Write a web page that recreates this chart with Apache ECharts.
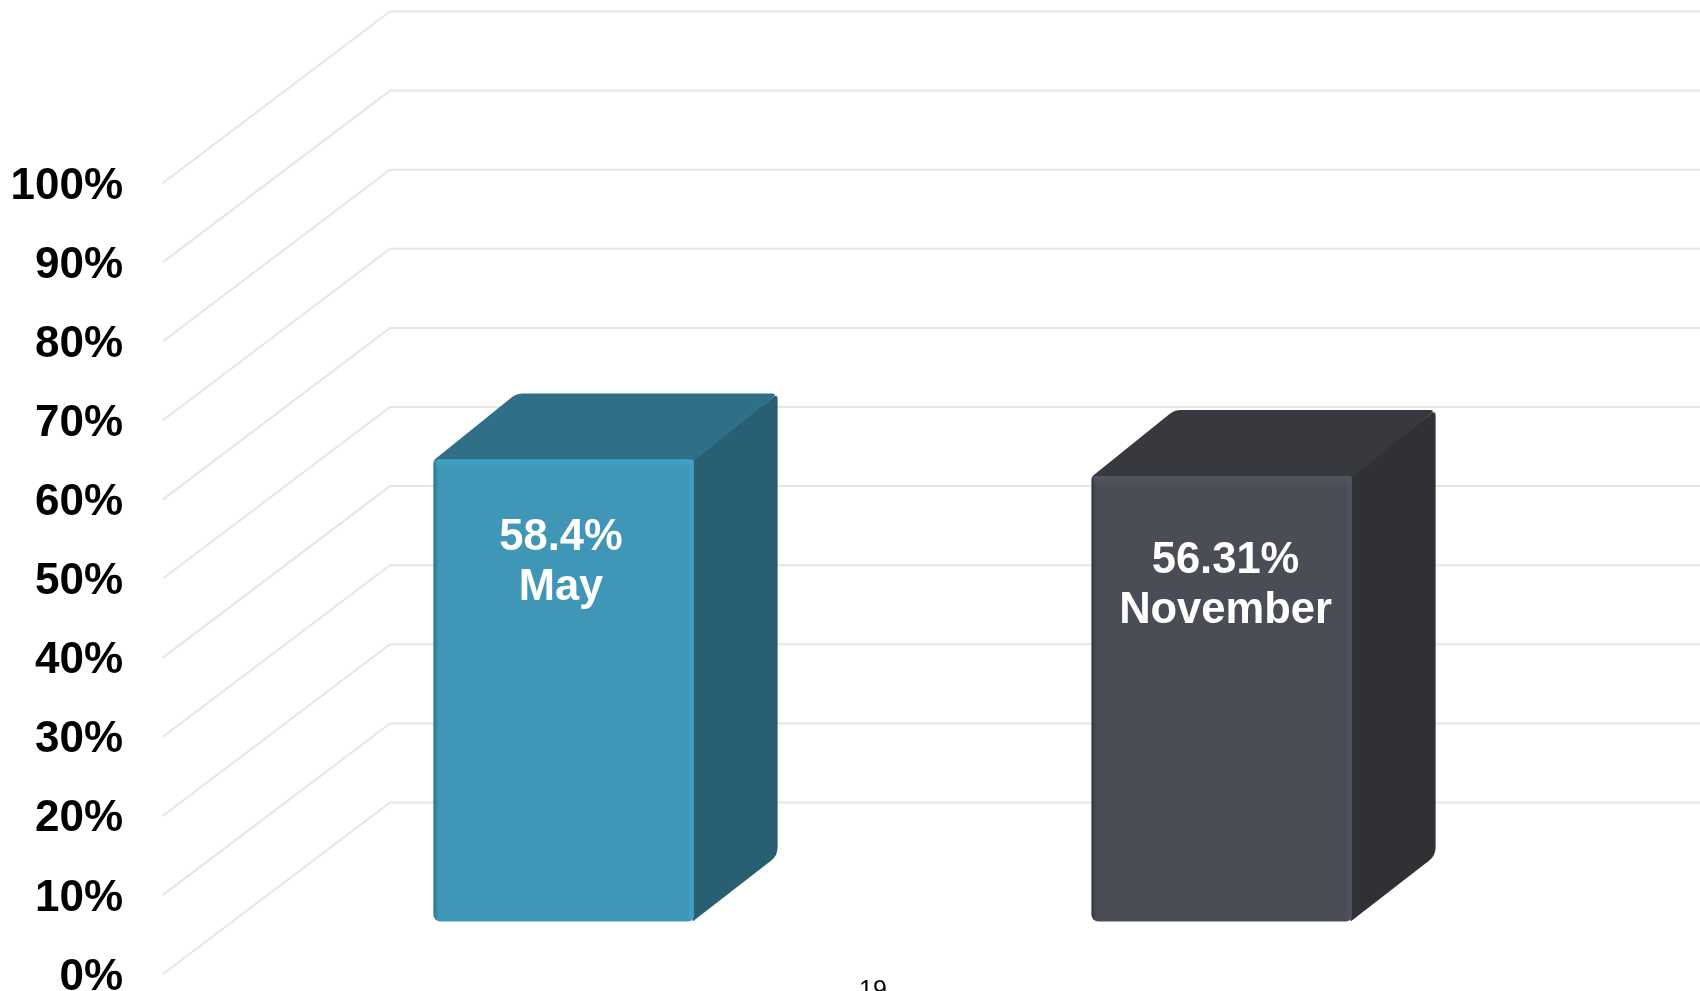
<!DOCTYPE html>
<html>
<head>
<meta charset="utf-8">
<title>May vs November</title>
<style>
  html, body { margin: 0; padding: 0; background: #fff; }
  #chart-container { width: 1700px; height: 991px; }
</style>
<script src="https://cdn.jsdelivr.net/npm/echarts@6/dist/echarts.min.js"></script>
</head>
<body>
<div id="chart-container"></div>
<script>
const categories = ['May', 'November'];
const values = [58.4, 56.31];
const valueLabels = ['58.4%', '56.31%'];
const axisTicks = [0, 10, 20, 30, 40, 50, 60, 70, 80, 90, 100];
const pageNumber = '19';

// looks for each bar
const barColors = [
  { front: '#3f96b6', edgeDark: '#2c7590', edgeLight: '#41a3c7', top: '#2f7088', side: '#285f73' },
  { front: '#4a4d55', edgeDark: '#35373c', edgeLight: '#53565e', top: '#37393e', side: '#2f3135' }
];
const labelNudge = [[-3, 103], [3.5, 110]];

// fake perspective offsets, in pixels
const wallDepth = [227, -171.5];
const floorOffset = [72, -52.5];
const barDepth = [83, -66];

var dom = document.getElementById('chart-container');
var myChart = echarts.init(dom, null, { renderer: 'canvas' });

// closed path through pts, corners rounded by radii[i]
function roundedPath(pts, radii) {
  var n = pts.length;
  var d = '';
  for (var i = 0; i < n; i++) {
    var p = pts[i], a = pts[(i + n - 1) % n], b = pts[(i + 1) % n], r = radii[i];
    var la = Math.hypot(a[0] - p[0], a[1] - p[1]);
    var lb = Math.hypot(b[0] - p[0], b[1] - p[1]);
    var s = [p[0] + (a[0] - p[0]) * r / la, p[1] + (a[1] - p[1]) * r / la];
    var e = [p[0] + (b[0] - p[0]) * r / lb, p[1] + (b[1] - p[1]) * r / lb];
    d += (i ? 'L' : 'M') + s[0] + ' ' + s[1] + 'Q' + p[0] + ' ' + p[1] + ' ' + e[0] + ' ' + e[1];
  }
  return d + 'Z';
}

function renderWallLine(params, api) {
  var y = api.coord([0, api.value(1)])[1];
  var x0 = params.coordSys.x;
  return {
    type: 'polyline',
    shape: {
      points: [
        [x0, y],
        [x0 + wallDepth[0], y + wallDepth[1]],
        [api.getWidth(), y + wallDepth[1]]
      ]
    },
    style: { fill: null, stroke: '#e6e6e6', lineWidth: 2 }
  };
}

function renderBar(params, api) {
  var i = params.dataIndex;
  var c = barColors[i];
  var center = api.coord([api.value(0), 0])[0] + floorOffset[0];
  var bottom = api.coord([api.value(0), 0])[1] + floorOffset[1];
  var top = api.coord([api.value(0), api.value(1)])[1] + floorOffset[1];
  var w = api.size([1, 0])[0] * 0.397;
  var l = center - w / 2, r = center + w / 2;
  var dx = barDepth[0], dy = barDepth[1];
  var h = bottom - top;

  var sidePts = [[r - 2, top], [r + dx, top + dy], [r + dx, bottom + dy], [r - 2, bottom]];
  var topPts = [[l, top + 1], [l + dx, top + dy], [r + dx, top + dy], [r, top + 1]];

  return {
    type: 'group',
    children: [
      { type: 'path', shape: { pathData: roundedPath(sidePts, [0, 6, 8, 0]) }, style: { fill: c.side } },
      { type: 'path', shape: { pathData: roundedPath(topPts, [2, 7, 6, 0]) }, style: { fill: c.top } },
      {
        type: 'rect',
        shape: { x: l, y: top, width: w, height: h, r: [4, 4, 7, 7] },
        style: {
          fill: new echarts.graphic.LinearGradient(0, 0, 1, 0, [
            { offset: 0, color: c.edgeDark },
            { offset: 0.02, color: c.front },
            { offset: 0.97, color: c.front },
            { offset: 0.995, color: c.edgeLight },
            { offset: 1, color: c.side }
          ])
        }
      },
      {
        type: 'rect',
        shape: { x: l + 2, y: top, width: w - 4, height: 11, r: [4, 4, 0, 0] },
        style: {
          fill: new echarts.graphic.LinearGradient(0, 0, 0, 1, [
            { offset: 0, color: c.edgeLight },
            { offset: 1, color: c.edgeLight + '00' }
          ])
        }
      },
      {
        type: 'text',
        style: {
          x: center + labelNudge[i][0],
          y: top + labelNudge[i][1],
          text: valueLabels[i] + '\n' + categories[i],
          fill: '#ffffff',
          font: 'bold 43.5px "Liberation Sans", Arial, sans-serif',
          lineHeight: 50,
          align: 'center',
          verticalAlign: 'middle'
        }
      }
    ]
  };
}

var option = {
  animation: false,
  backgroundColor: '#ffffff',
  grid: { left: 163, right: 221, top: 183, bottom: 17, outerBoundsMode: 'none' },
  xAxis: {
    type: 'category',
    data: categories,
    axisLine: { show: false },
    axisTick: { show: false },
    axisLabel: { show: false }
  },
  yAxis: {
    type: 'value',
    min: 0,
    max: 100,
    interval: 10,
    axisLine: { show: false },
    axisTick: { show: false },
    splitLine: { show: false },
    axisLabel: {
      formatter: '{value}%',
      margin: 40,
      // labels sit a little under the line ends
      verticalAlign: 'top',
      lineHeight: 7,
      color: '#000000',
      fontSize: 44,
      fontWeight: 'bold',
      fontFamily: '"Liberation Sans", Arial, sans-serif'
    }
  },
  series: [
    {
      type: 'custom',
      name: 'walls',
      z: 1,
      silent: true,
      renderItem: renderWallLine,
      encode: { x: 0, y: 1 },
      data: axisTicks.map(function (t) { return [0, t]; })
    },
    {
      type: 'custom',
      name: 'bars',
      z: 2,
      renderItem: renderBar,
      encode: { x: 0, y: 1 },
      data: values.map(function (v, i) { return [i, v]; })
    }
  ],
  graphic: [
    {
      type: 'text',
      left: 859,
      top: 979,
      silent: true,
      style: {
        text: pageNumber,
        fill: '#000000',
        font: '25px "Liberation Sans", Arial, sans-serif'
      }
    }
  ]
};

myChart.setOption(option);
window.addEventListener('resize', myChart.resize);
</script>
</body>
</html>
